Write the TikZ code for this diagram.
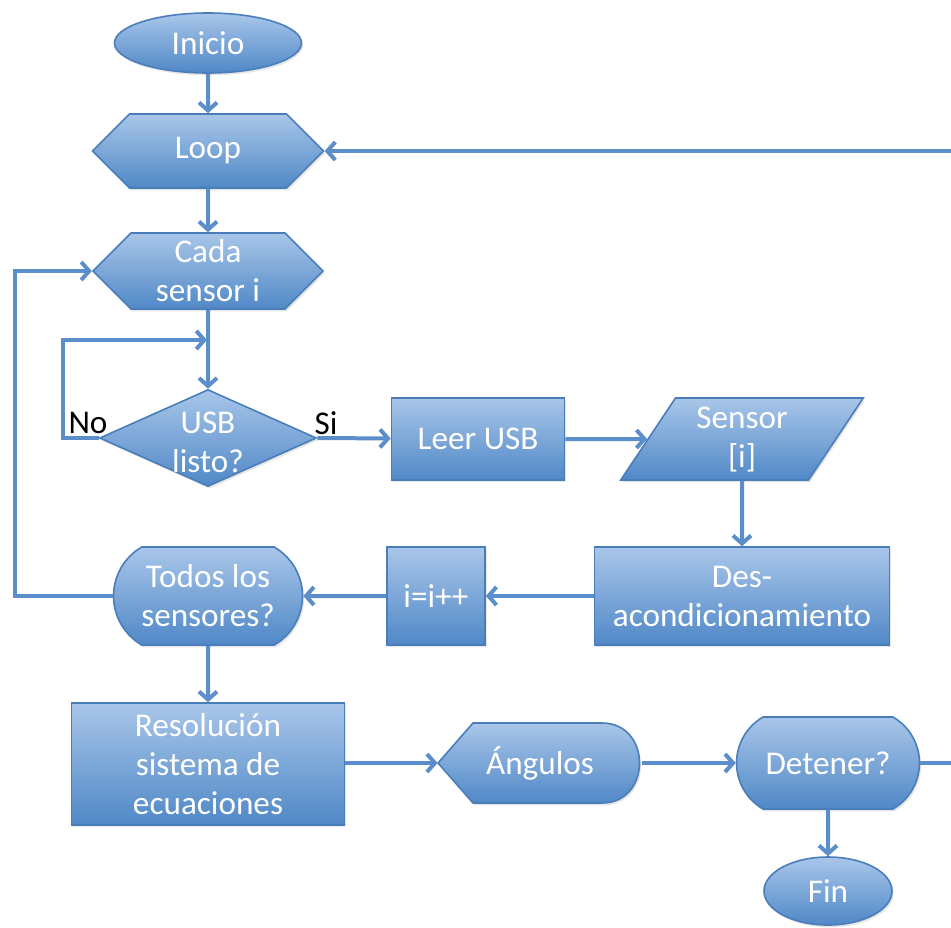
\documentclass[tikz,border=0pt]{standalone}
\usepackage{fontspec}
\setmainfont{Carlito}
\usetikzlibrary{positioning,arrows.meta,shapes.geometric,shapes.symbols,shapes.misc,shadows}

\definecolor{boxtop}{HTML}{A9C6E9}
\definecolor{boxbot}{HTML}{5088C7}
\definecolor{boxline}{HTML}{4A7EBB}
\definecolor{flowline}{HTML}{5B8ECA}

\begin{document}
\begin{tikzpicture}[x=0.5pt, y=-0.5pt,
    boxfill/.style={draw=boxline, line width=0.8pt, top color=boxtop, bottom color=boxbot,
        drop shadow={opacity=0.2, shadow xshift=0.8pt, shadow yshift=-1.2pt}},
    boxtext/.style={text=white, align=center, font=\fontsize{16.6}{19.5}\selectfont, inner sep=0pt},
    box/.style={boxfill, boxtext},
    hexa/.style={signal, signal to=west and east, signal pointer angle=90},
    pill/.style={rounded rectangle, rounded rectangle arc length=120},
    flow/.style={draw=flowline, line width=2pt, -{Straight Barb[length=4pt,width=9pt]}},
    tag/.style={font=\fontsize{16.6}{19.5}\selectfont, text=black, inner sep=0pt}]
    \useasboundingbox (0,0) rectangle (951,927);

    % Column on the left
    \node[box, ellipse, minimum width=93.5pt, minimum height=30pt] (ini) at (208,43) {Inicio};
    \node[box, hexa, minimum width=115.5pt, minimum height=37pt] (loop) at (208,151) {Loop};
    \node[box, hexa, minimum width=115pt, minimum height=38pt] (cada) at (208,271) {Cada\\sensor i};
    \node[boxfill, diamond, minimum width=108.5pt, minimum height=48.5pt, inner sep=0pt] (usb) at (208,438) {};
    \node[boxtext] (usbt) at (208,442) {USB\\listo?};
    \node[tag] (no) at (88,423) {No};
    \node[tag] (si) at (326,423) {Si};

    % Reading the sensor
    \node[box, minimum width=86.5pt, minimum height=41pt] (leer) at (478,439) {Leer USB};
    \node[box, trapezium, trapezium left angle=60, trapezium right angle=120, trapezium stretches,
        minimum width=121.5pt, minimum height=41pt] (sens) at (742,439) {Sensor\\{[i]}};
    \node[box, minimum width=147.5pt, minimum height=49pt] (des) at (742,596) {Des-\\acondicionamiento};
    \node[box, minimum width=49pt, minimum height=49pt] (inc) at (436,596) {i=i++};
    \node[box, pill, minimum width=94.5pt, minimum height=49pt] (todos) at (208,596) {Todos los\\sensores?};

    % Bottom row
    \node[box, minimum width=136.5pt, minimum height=61pt] (res) at (208,764) {Resolución\\sistema de\\ecuaciones};
    \shade[boxfill] (438,763) -- (473,723) -- (602,723) .. controls (652,723) and (652,803) .. (602,803)
        -- (473,803) -- cycle;
    \node[boxtext, minimum width=102pt, minimum height=40pt] (ang) at (540,763) {Ángulos};
    \node[box, pill, minimum width=91.5pt, minimum height=46pt] (det) at (828,763) {Detener?};
    \node[box, ellipse, minimum width=64pt, minimum height=34pt] (fin) at (828,891) {Fin};

    % Connectors
    \coordinate (nol) at (63,438);
    \coordinate (noj) at (207,340);
    \coordinate (lt) at (15,596);
    \coordinate (rt) at (958,151);
    \draw[flow] (ini) -- (loop);
    \draw[flow] (loop) -- (cada);
    \draw[flow] (cada) -- (usb);
    \draw[flow] (usb.west) -- (nol) |- (noj);
    \draw[flow] (usb.east) -- (leer);
    \draw[flow] (leer) -- (sens);
    \draw[flow] (sens) -- (des);
    \draw[flow] (des) -- (inc);
    \draw[flow] (inc) -- (todos);
    \draw[flow] (todos.west) -- (lt) |- (cada.west);
    \draw[flow] (todos) -- (res);
    \draw[flow] (res.east |- ang.west) -- (ang.west);
    \draw[flow] (ang) -- (det);
    \draw[flow] (det) -- (fin);
    \draw[flow] (det.east) -| (rt) -- (loop.east);
\end{tikzpicture}
\end{document}
